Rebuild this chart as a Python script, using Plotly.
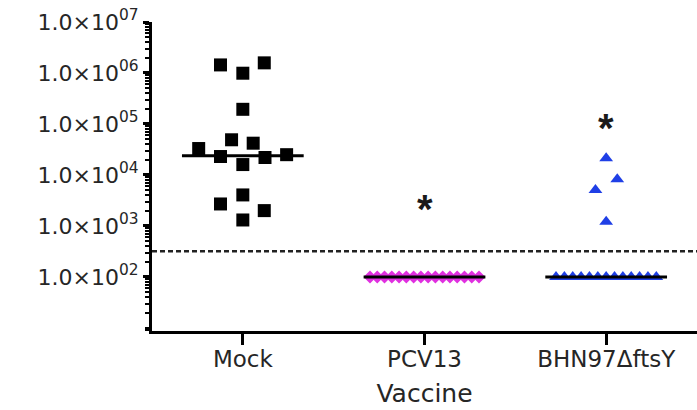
import numpy as np
import plotly.graph_objects as go

groups = ["Mock", "PCV13", "BHN97ΔftsY"]

mock_values = [1.44e6, 9.9e5, 1.58e6, 1.94e5, 3.3e4, 4.9e4, 4.2e4, 2.3e4,
               2.2e4, 2.5e4, 1.6e4, 4.06e3, 2.7e3, 2.0e3, 1.31e3]
mock_jitter = [-0.123, 0.0, 0.118, 0.0, -0.243, -0.062, 0.057, -0.123,
               0.122, 0.241, 0.0, 0.0, -0.123, 0.118, 0.0]

pcv13_values = [100, 100, 100, 100, 100, 100, 100, 100,
                100, 100, 100, 100, 100, 100, 100, 100]
pcv13_jitter = [-0.30, -0.26, -0.22, -0.18, -0.14, -0.10, -0.06, -0.02,
                0.02, 0.06, 0.10, 0.14, 0.18, 0.22, 0.26, 0.30]

bhn_values = [2.12e4, 8.2e3, 5.1e3, 1.21e3,
              100, 100, 100, 100, 100, 100, 100, 100, 100, 100, 100, 100, 100]
bhn_jitter = [0.0, 0.061, -0.059, 0.0,
              -0.276, -0.230, -0.184, -0.138, -0.092, -0.046, 0.0,
              0.046, 0.092, 0.138, 0.184, 0.230, 0.276]

medians = [2.39e4, 100, 100]
detection_limit = 320
star_values = [None, 2.6e3, 1.0e5]

ytick_vals = [1e2, 1e3, 1e4, 1e5, 1e6, 1e7]
ytick_text = ["1.0×10<sup>02</sup>", "1.0×10<sup>03</sup>", "1.0×10<sup>04</sup>",
              "1.0×10<sup>05</sup>", "1.0×10<sup>06</sup>", "1.0×10<sup>07</sup>"]

FONT = "DejaVu Sans"
TXT = "#262626"

fig = go.Figure()

# detection limit dashed line
fig.add_trace(go.Scatter(
    x=[-0.5, 2.5], y=[detection_limit, detection_limit], mode="lines",
    line=dict(color="#222222", width=2.5, dash="5px,3px"),
    hoverinfo="skip", showlegend=False))

fig.add_trace(go.Scatter(
    x=[0 + j for j in mock_jitter], y=mock_values, mode="markers",
    marker=dict(symbol="square", size=13, color="black"), showlegend=False))

fig.add_trace(go.Scatter(
    x=[1 + j for j in pcv13_jitter], y=pcv13_values, mode="markers",
    marker=dict(symbol="diamond", size=10, color="#e030e0"), showlegend=False))

fig.add_trace(go.Scatter(
    x=[2 + j for j in bhn_jitter], y=bhn_values, mode="markers",
    marker=dict(symbol="triangle-up", size=12, color="#1f3fe6"), showlegend=False))

for i, m in enumerate(medians):
    fig.add_trace(go.Scatter(
        x=[i - 0.335, i + 0.335], y=[m, m], mode="lines",
        line=dict(color="black", width=3), hoverinfo="skip", showlegend=False))

for i, s in enumerate(star_values):
    if s is not None:
        fig.add_annotation(x=i, y=np.log10(s), text="*", showarrow=False,
                           font=dict(family="Liberation Sans", size=40, color="#1a1a1a", weight="bold"),
                           yshift=-4)

fig.update_layout(
    width=697, height=410,
    margin=dict(l=152, r=0, t=22, b=79),
    paper_bgcolor="white", plot_bgcolor="white",
    font=dict(family=FONT, color=TXT),
    xaxis=dict(
        range=[-0.5, 2.5], tickvals=[0, 1, 2], ticktext=groups,
        showgrid=False, zeroline=False,
        showline=True, linecolor="black", linewidth=3,
        ticks="outside", ticklen=11, tickwidth=3, tickcolor="black",
        ticklabelstandoff=-6,
        tickfont=dict(family=FONT, size=23, color=TXT),
        title=dict(text="Vaccine", font=dict(family=FONT, size=25, color=TXT), standoff=14),
    ),
    yaxis=dict(
        type="log", range=[0.94, 7.0],
        tickvals=ytick_vals, ticktext=ytick_text,
        showgrid=False, zeroline=False,
        showline=True, linecolor="black", linewidth=3,
        ticks="outside", ticklen=6, tickwidth=2.5, tickcolor="black",
        tickfont=dict(family=FONT, size=22, color=TXT),
        minor=dict(ticks="outside", ticklen=4, tickwidth=1.5, tickcolor="black",
                   dtick="D1", showgrid=False),
    ),
)

fig.write_html("out.html")
